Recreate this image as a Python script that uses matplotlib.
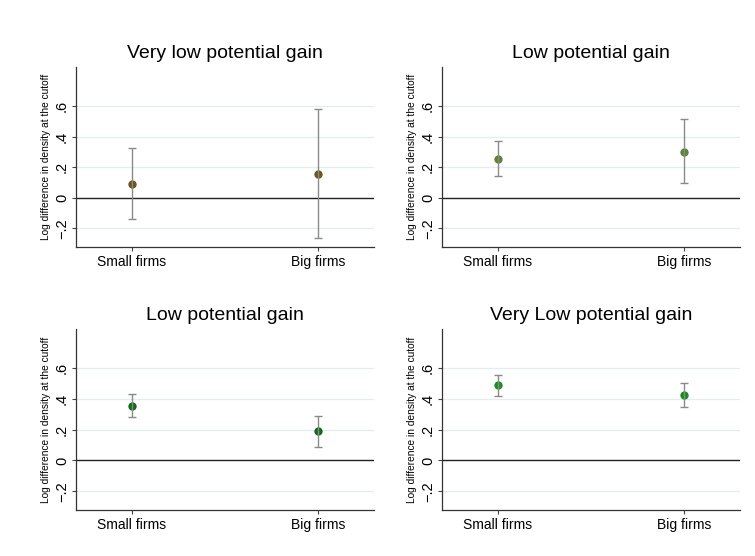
import matplotlib
matplotlib.use("Agg")
import matplotlib.pyplot as plt
from matplotlib.ticker import FixedLocator, FuncFormatter

plt.rcParams['font.family'] = ['Liberation Sans', 'DejaVu Sans']

titles = ["Very low potential gain", "Low potential gain",
          "Low potential gain", "Very Low potential gain"]
categories = ["Small firms", "Big firms"]
estimates = [[0.091, 0.156], [0.256, 0.302], [0.356, 0.189], [0.489, 0.426]]
ci_low = [[-0.139, -0.263], [0.143, 0.094], [0.282, 0.087], [0.421, 0.348]]
ci_high = [[0.326, 0.582], [0.371, 0.517], [0.430, 0.291], [0.556, 0.506]]
marker_colors = ["#6b5520", "#5a8532", "#136a1c", "#1a8c22"]
yticks = [-0.2, 0, 0.2, 0.4, 0.6]

fig = plt.figure(figsize=(7.55, 5.56), dpi=100)
positions = [
    [0.1007, 0.5558, 0.3947, 0.3237],
    [0.5854, 0.5558, 0.3947, 0.3237],
    [0.1007, 0.0827, 0.3947, 0.3256],
    [0.5854, 0.0827, 0.3947, 0.3256],
]

def fmt(v, pos):
    if abs(v) < 1e-9:
        return "0"
    s = f"{v:.1f}"
    s = s.replace("0.", ".")
    return s.replace("-", "\u2212")

for i in range(4):
    ax = fig.add_axes(positions[i])
    x = list(range(1, len(categories) + 1))
    for v in yticks:
        if v == 0:
            continue
        ax.axhline(v, color="#e3ecef", lw=0.9, zorder=0)
    ax.axhline(0, color="#222222", lw=1.0, zorder=1)
    ax.plot(x, estimates[i], 'o', color=marker_colors[i], ms=6, zorder=2,
            markeredgewidth=0)
    lo = [e - l for e, l in zip(estimates[i], ci_low[i])]
    hi = [h - e for e, h in zip(estimates[i], ci_high[i])]
    ax.errorbar(x, estimates[i], yerr=[lo, hi], fmt='none', ecolor="#8a8a8a",
                elinewidth=1.0, capsize=3, capthick=1.0, zorder=3)
    ax.set_xlim(0.7, 2.3)
    ax.set_ylim(-0.322, 0.855)
    ax.set_xticks(x)
    ax.set_xticklabels(categories, fontsize=10)
    ax.yaxis.set_major_locator(FixedLocator(yticks))
    ax.yaxis.set_major_formatter(FuncFormatter(fmt))
    ax.tick_params(axis='y', labelsize=10.5, labelrotation=90, length=3,
                   width=0.8, color="#444444", pad=2)
    ax.tick_params(axis='x', length=3, width=0.8, color="#444444", pad=3)
    for lab in ax.get_yticklabels():
        lab.set_va('center')
    ax.spines['top'].set_visible(False)
    ax.spines['right'].set_visible(False)
    ax.spines['left'].set_color("#333333")
    ax.spines['bottom'].set_color("#333333")
    ax.spines['left'].set_linewidth(0.9)
    ax.spines['bottom'].set_linewidth(0.9)
    ax.set_ylabel("Log difference in density at the cutoff", fontsize=7.3,
                  labelpad=3)
    ax.set_title(titles[i], fontsize=14, pad=6.5)

fig.savefig("out.png", dpi=100)
